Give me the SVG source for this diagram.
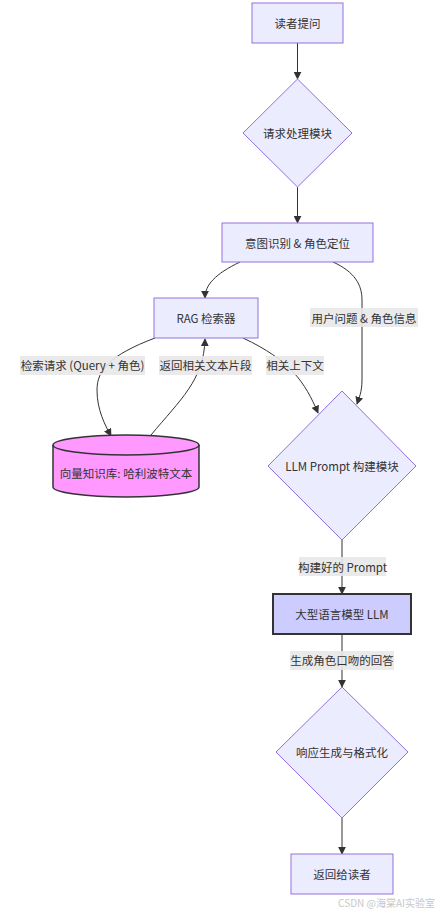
<svg xmlns="http://www.w3.org/2000/svg" width="440" height="912" viewBox="0 0 440 912">
<style>
.n{fill:#ECECFF;stroke:#9370DB;stroke-width:1}
.t{font-family:"Noto Sans CJK SC","Noto Sans",sans-serif;font-size:11.5px;fill:#333;text-anchor:middle;dominant-baseline:central}
.e{fill:none;stroke:#333;stroke-width:1}
.lb{fill:#e8e8e8;opacity:0.9}
</style>
<defs>
<marker id="ah" viewBox="0 0 10 10" refX="9" refY="5" markerWidth="8" markerHeight="8" markerUnits="userSpaceOnUse" orient="auto">
<path d="M0,0 L10,5 L0,10 z" fill="#333"/>
</marker>
</defs>
<rect width="440" height="912" fill="#fff"/>
<g id="edges">
<path class="e" marker-end="url(#ah)" d="M297.5,43 L297.5,79"/>
<path class="e" marker-end="url(#ah)" d="M297.5,187 L297.5,223"/>
<path class="e" marker-end="url(#ah)" d="M240,262 C215,274 205,285 205,298"/>
<path class="e" marker-end="url(#ah)" d="M333,262 C355,272 362,285 362,300 L362,380 C362,392 359,398 357,404"/>
<path class="e" marker-end="url(#ah)" d="M155,338 C110,355 97,370 97,390 C97,410 105,425 111,436"/>
<path class="e" marker-end="url(#ah)" d="M151,435 C180,400 204,380 205,339"/>
<path class="e" marker-end="url(#ah)" d="M243,338 C290,360 305,382 318,413"/>
<path class="e" marker-end="url(#ah)" d="M342,540 L342,594"/>
<path class="e" marker-end="url(#ah)" d="M342,634 L342,687"/>
<path class="e" marker-end="url(#ah)" d="M342,818 L342,854"/>
<rect class="lb" x="310" y="308" width="108" height="19"/>
<text class="t" x="364" y="317.5">用户问题 &amp; 角色信息</text>
<rect class="lb" x="20" y="356" width="125" height="19"/>
<text class="t" x="82.5" y="365">检索请求 (Query + 角色)</text>
<rect class="lb" x="159" y="356" width="93" height="19"/>
<text class="t" x="205.5" y="365">返回相关文本片段</text>
<rect class="lb" x="266" y="356" width="58" height="19"/>
<text class="t" x="295" y="365">相关上下文</text>
<rect class="lb" x="299" y="557" width="87" height="19"/>
<text class="t" x="342.5" y="566.5">构建好的 Prompt</text>
<rect class="lb" x="290" y="651" width="104" height="19"/>
<text class="t" x="342" y="660">生成角色口吻的回答</text>
</g>
<g id="A"><rect class="n" x="252" y="3" width="91" height="40"/><text class="t" x="297.5" y="23">读者提问</text></g>
<g id="B"><polygon class="n" points="297.5,79 352,133 297.5,187 243,133"/><text class="t" x="297.5" y="133">请求处理模块</text></g>
<g id="C"><rect class="n" x="222" y="223" width="151" height="39"/><text class="t" x="297.5" y="242.5">意图识别 &amp; 角色定位</text></g>
<g id="RAG"><rect class="n" x="154" y="298" width="104" height="40"/><text class="t" x="206" y="318">RAG 检索器</text></g>
<g id="KB">
<path d="M53,445 A73,10 0 0 1 199,445 L199,487 A73,10 0 0 1 53,487 Z" fill="#ff99ff" stroke="#333" stroke-width="1.5"/>
<path d="M53,445 A73,10 0 0 0 199,445" fill="none" stroke="#333" stroke-width="1.5"/>
<text class="t" x="126" y="473">向量知识库: 哈利波特文本</text>
</g>
<g id="P"><polygon class="n" points="342,391 416,466 342,540 268,466"/><text class="t" x="342" y="466">LLM Prompt 构建模块</text></g>
<g id="LLM"><rect x="273" y="594" width="138" height="40" fill="#ccccff" stroke="#333" stroke-width="2"/><text class="t" x="342" y="614">大型语言模型 LLM</text></g>
<g id="R"><polygon class="n" points="342,687 408,752 342,818 276,752"/><text class="t" x="342" y="752">响应生成与格式化</text></g>
<g id="F"><rect class="n" x="291" y="854" width="102" height="40"/><text class="t" x="342" y="874">返回给读者</text></g>
<text x="435" y="902" font-family="Noto Sans CJK SC,sans-serif" font-size="10px" fill="#c8c8c8" text-anchor="end" dominant-baseline="central">CSDN @海棠AI实验室</text>
</svg>
